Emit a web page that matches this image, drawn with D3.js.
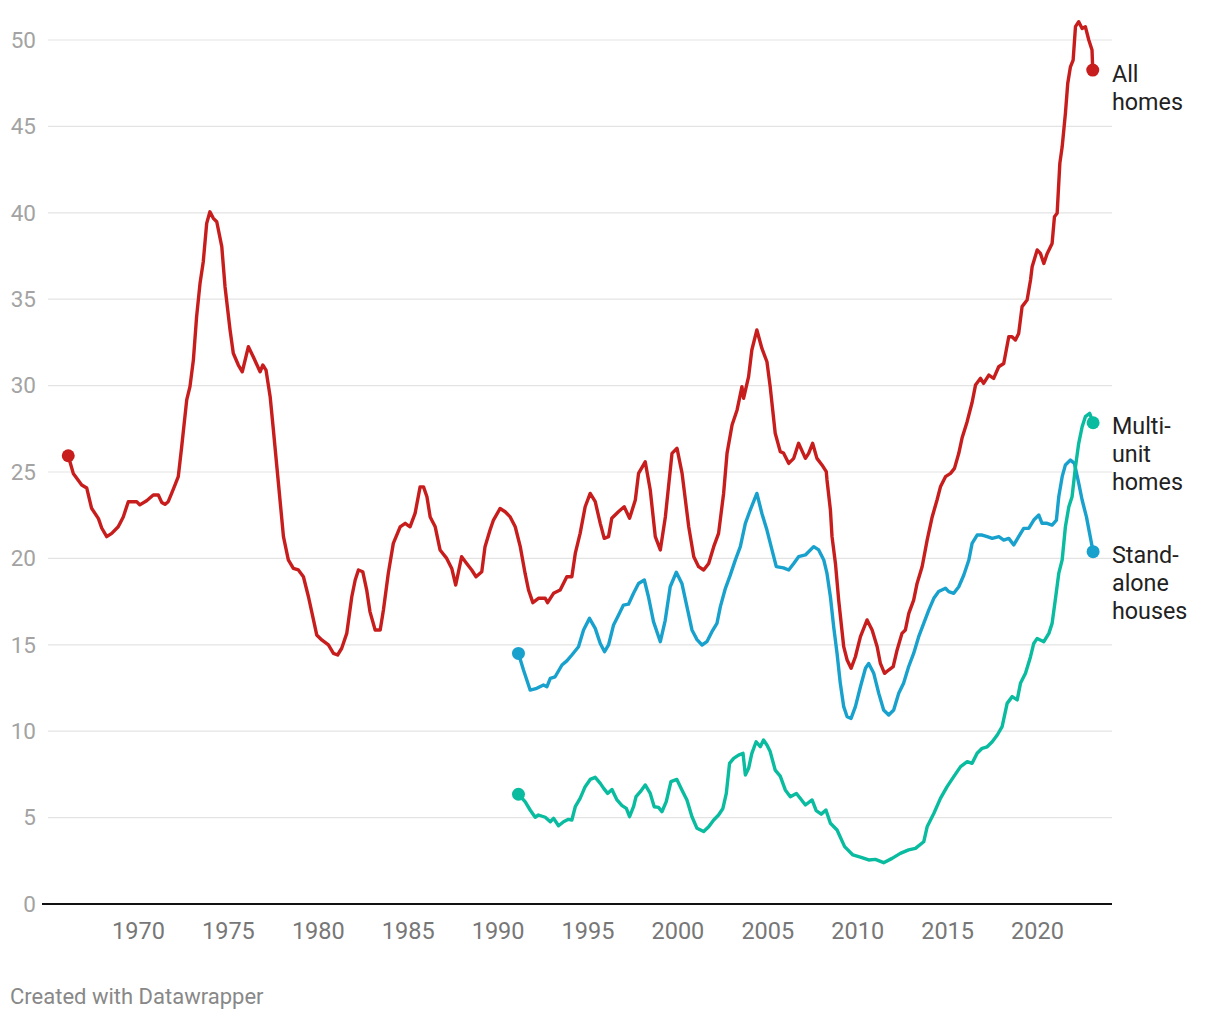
<!DOCTYPE html>
<html>
<head>
<meta charset="utf-8">
<script src="https://cdn.jsdelivr.net/npm/d3@7"></script>
<style>
  html, body { margin: 0; padding: 0; background: #fff; }
  svg { display: block; font-family: Roboto, "Noto Sans", sans-serif; }
</style>
</head>
<body>
<svg id="chart" width="1220" height="1020"></svg>
<script>
// ---- Data (decimal year, value) ----
const allHomes = [
[1966.12,25.94],[1966.40,24.92],[1966.87,24.25],[1967.15,24.07],[1967.42,22.90],[1967.80,22.30],[1967.98,21.76],
[1968.26,21.26],[1968.54,21.45],[1968.90,21.83],[1969.18,22.40],[1969.46,23.28],[1969.93,23.28],[1970.10,23.10],
[1970.48,23.34],[1970.85,23.67],[1971.13,23.67],[1971.32,23.24],[1971.50,23.13],[1971.68,23.28],[1971.87,23.76],
[1972.06,24.25],[1972.24,24.73],[1972.43,26.46],[1972.71,29.17],[1972.89,29.94],[1973.08,31.48],[1973.26,33.99],
[1973.45,35.92],[1973.63,37.17],[1973.82,39.39],[1974.00,40.06],[1974.19,39.68],[1974.38,39.48],[1974.66,38.04],
[1974.84,35.72],[1975.12,33.22],[1975.30,31.87],[1975.58,31.19],[1975.80,30.80],[1976.14,32.25],[1976.41,31.67],
[1976.79,30.80],[1976.94,31.19],[1977.12,30.90],[1977.35,29.36],[1977.53,27.43],[1977.81,24.35],[1978.09,21.26],
[1978.36,19.91],[1978.64,19.42],[1978.92,19.33],[1979.20,18.94],[1979.48,17.78],[1979.76,16.44],[1979.94,15.57],
[1980.22,15.28],[1980.59,14.99],[1980.87,14.50],[1981.10,14.41],[1981.33,14.80],[1981.61,15.66],[1981.89,17.78],
[1982.08,18.75],[1982.26,19.33],[1982.50,19.23],[1982.72,18.17],[1982.90,16.92],[1983.19,15.86],[1983.47,15.86],
[1983.65,17.01],[1983.92,19.13],[1984.20,20.87],[1984.58,21.83],[1984.86,22.03],[1985.13,21.83],[1985.41,22.60],
[1985.69,24.14],[1985.88,24.14],[1986.07,23.57],[1986.25,22.40],[1986.53,21.83],[1986.80,20.49],[1987.17,20.00],
[1987.45,19.42],[1987.67,18.46],[1988.00,20.10],[1988.28,19.71],[1988.56,19.33],[1988.80,18.94],[1989.12,19.23],
[1989.30,20.68],[1989.58,21.64],[1989.77,22.22],[1990.14,22.89],[1990.42,22.70],[1990.70,22.40],[1990.98,21.83],
[1991.26,20.68],[1991.53,19.13],[1991.72,18.17],[1991.96,17.44],[1992.27,17.69],[1992.65,17.69],[1992.78,17.44],
[1993.11,17.98],[1993.48,18.17],[1993.85,18.94],[1994.13,18.94],[1994.32,20.29],[1994.59,21.45],[1994.87,22.99],
[1995.15,23.76],[1995.43,23.28],[1995.71,22.03],[1995.93,21.16],[1996.17,21.26],[1996.35,22.32],[1996.72,22.70],
[1997.04,22.99],[1997.34,22.32],[1997.66,23.38],[1997.84,24.92],[1998.21,25.59],[1998.49,23.96],[1998.77,21.26],
[1999.05,20.49],[1999.33,22.40],[1999.70,26.08],[1999.98,26.37],[2000.26,24.92],[2000.63,21.83],[2000.91,20.10],
[2001.18,19.52],[2001.46,19.33],[2001.74,19.71],[2002.02,20.68],[2002.29,21.45],[2002.57,23.76],[2002.76,26.08],
[2003.04,27.72],[2003.32,28.59],[2003.59,29.94],[2003.68,29.26],[2003.96,30.52],[2004.14,32.06],[2004.42,33.22],
[2004.70,32.15],[2004.98,31.38],[2005.16,29.94],[2005.44,27.24],[2005.72,26.18],[2005.90,26.10],[2006.19,25.50],
[2006.47,25.79],[2006.74,26.66],[2007.12,25.79],[2007.30,26.08],[2007.52,26.66],[2007.76,25.79],[2008.04,25.41],
[2008.28,25.02],[2008.32,24.54],[2008.51,22.80],[2008.60,21.26],[2008.79,19.71],[2008.97,17.59],[2009.25,14.89],
[2009.44,14.12],[2009.66,13.64],[2009.90,14.31],[2010.18,15.47],[2010.55,16.44],[2010.83,15.86],[2011.11,14.89],
[2011.29,13.92],[2011.52,13.35],[2011.75,13.54],[2012.00,13.73],[2012.22,14.70],[2012.49,15.66],[2012.68,15.86],
[2012.87,16.82],[2013.14,17.59],[2013.33,18.55],[2013.61,19.52],[2013.89,21.06],[2014.17,22.40],[2014.44,23.38],
[2014.63,24.14],[2014.91,24.73],[2015.19,24.92],[2015.41,25.21],[2015.65,26.08],[2015.84,27.00],[2016.11,27.90],
[2016.39,29.02],[2016.58,30.03],[2016.86,30.42],[2017.03,30.13],[2017.32,30.61],[2017.59,30.42],[2017.87,31.09],
[2018.15,31.28],[2018.43,32.83],[2018.61,32.83],[2018.80,32.64],[2018.98,33.02],[2019.17,34.57],[2019.45,34.95],
[2019.64,36.11],[2019.73,36.88],[2020.01,37.85],[2020.19,37.65],[2020.38,37.07],[2020.57,37.65],[2020.84,38.23],
[2020.97,39.77],[2021.12,39.97],[2021.27,42.86],[2021.40,43.82],[2021.58,45.75],[2021.71,47.49],[2021.86,48.45],
[2022.01,48.84],[2022.14,50.77],[2022.32,51.06],[2022.51,50.67],[2022.69,50.77],[2022.88,50.00],[2023.06,49.42],
[2023.10,48.26]
];

const standAlone = [
[1991.16,14.50],[1991.44,13.54],[1991.81,12.38],[1992.18,12.48],[1992.55,12.67],[1992.74,12.57],[1992.93,13.06],
[1993.20,13.15],[1993.58,13.83],[1993.85,14.07],[1994.13,14.41],[1994.50,14.89],[1994.78,15.86],[1995.11,16.53],
[1995.43,15.95],[1995.71,15.08],[1995.95,14.60],[1996.17,14.99],[1996.45,16.15],[1996.73,16.72],[1997.00,17.30],
[1997.28,17.35],[1997.56,17.98],[1997.84,18.55],[1998.16,18.75],[1998.39,17.78],[1998.67,16.34],[1999.05,15.18],
[1999.32,16.40],[1999.60,18.36],[1999.94,19.20],[2000.25,18.55],[2000.53,17.21],[2000.81,15.86],[2001.09,15.30],
[2001.37,14.99],[2001.64,15.18],[2001.92,15.76],[2002.20,16.24],[2002.39,17.21],[2002.67,18.27],[2002.94,19.03],
[2003.22,19.90],[2003.50,20.68],[2003.78,22.03],[2004.05,22.80],[2004.42,23.76],[2004.70,22.60],[2004.98,21.64],
[2005.26,20.49],[2005.50,19.52],[2005.90,19.45],[2006.19,19.33],[2006.47,19.71],[2006.74,20.10],[2007.12,20.20],
[2007.58,20.68],[2007.86,20.49],[2008.14,19.91],[2008.32,19.13],[2008.51,17.78],[2008.69,16.05],[2008.88,14.50],
[2009.06,12.77],[2009.25,11.42],[2009.44,10.84],[2009.66,10.74],[2009.90,11.42],[2010.18,12.57],[2010.46,13.64],
[2010.64,13.92],[2010.92,13.35],[2011.20,12.19],[2011.47,11.23],[2011.75,10.94],[2012.03,11.23],[2012.31,12.19],
[2012.58,12.77],[2012.86,13.73],[2013.14,14.50],[2013.42,15.47],[2013.70,16.24],[2013.98,17.01],[2014.26,17.69],
[2014.53,18.08],[2014.91,18.27],[2015.09,18.08],[2015.37,17.98],[2015.65,18.36],[2015.93,19.04],[2016.21,19.91],
[2016.39,20.87],[2016.67,21.35],[2016.95,21.35],[2017.23,21.26],[2017.51,21.16],[2017.88,21.26],[2018.15,21.06],
[2018.43,21.16],[2018.71,20.78],[2018.98,21.26],[2019.26,21.74],[2019.54,21.74],[2019.82,22.22],[2020.10,22.51],
[2020.28,22.03],[2020.56,22.03],[2020.84,21.93],[2021.08,22.22],[2021.21,23.57],[2021.40,24.73],[2021.58,25.41],
[2021.86,25.69],[2022.08,25.50],[2022.32,24.35],[2022.51,23.38],[2022.75,22.40],[2023.12,20.39]
];

const multiUnit = [
[1991.16,6.35],[1991.53,5.92],[1991.81,5.44],[1992.09,5.02],[1992.27,5.15],[1992.65,5.02],[1992.93,4.76],
[1993.11,4.96],[1993.39,4.53],[1993.67,4.76],[1993.94,4.90],[1994.13,4.86],[1994.32,5.63],[1994.59,6.11],
[1994.87,6.79],[1995.15,7.21],[1995.43,7.33],[1995.71,6.98],[1995.90,6.69],[1996.12,6.40],[1996.36,6.63],
[1996.64,6.02],[1996.92,5.69],[1997.16,5.53],[1997.34,5.05],[1997.56,5.63],[1997.70,6.21],[1997.94,6.50],
[1998.21,6.89],[1998.49,6.40],[1998.71,5.63],[1998.95,5.59],[1999.14,5.34],[1999.38,5.92],[1999.64,7.08],
[1999.97,7.21],[2000.25,6.60],[2000.53,6.02],[2000.81,5.05],[2001.09,4.38],[2001.46,4.19],[2001.74,4.47],
[2002.02,4.86],[2002.29,5.15],[2002.53,5.53],[2002.72,6.40],[2002.90,8.14],[2003.13,8.43],[2003.40,8.62],
[2003.65,8.72],[2003.78,7.47],[2003.96,7.85],[2004.14,8.72],[2004.38,9.39],[2004.61,9.10],[2004.79,9.49],
[2004.98,9.20],[2005.16,8.82],[2005.44,7.75],[2005.72,7.40],[2006.00,6.60],[2006.28,6.21],[2006.62,6.40],
[2006.84,6.10],[2007.12,5.73],[2007.49,6.02],[2007.72,5.40],[2008.00,5.20],[2008.26,5.44],[2008.51,4.67],
[2008.88,4.28],[2009.30,3.32],[2009.76,2.84],[2010.22,2.70],[2010.64,2.55],[2011.01,2.58],[2011.47,2.39],
[2011.94,2.64],[2012.40,2.93],[2012.86,3.13],[2013.24,3.22],[2013.70,3.60],[2013.89,4.47],[2014.26,5.24],
[2014.63,6.11],[2015.00,6.79],[2015.37,7.37],[2015.75,7.95],[2016.12,8.24],[2016.39,8.14],[2016.67,8.72],
[2016.95,9.01],[2017.23,9.10],[2017.51,9.39],[2017.79,9.78],[2018.06,10.26],[2018.34,11.61],[2018.62,12.00],
[2018.90,11.81],[2019.08,12.77],[2019.36,13.35],[2019.64,14.31],[2019.82,15.08],[2020.01,15.37],[2020.38,15.18],
[2020.66,15.66],[2020.84,16.24],[2021.03,17.69],[2021.21,19.13],[2021.40,19.91],[2021.58,21.83],[2021.77,22.99],
[2021.95,23.57],[2022.14,25.31],[2022.32,26.66],[2022.51,27.62],[2022.69,28.20],[2022.93,28.39],[2023.12,27.85]
];

const yTicks = [0, 5, 10, 15, 20, 25, 30, 35, 40, 45, 50];
const xTicks = [1970, 1975, 1980, 1985, 1990, 1995, 2000, 2005, 2010, 2015, 2020];

const seriesList = [
  { name: "All homes",          lines: ["All", "homes"],            color: "#c71e1d", data: allHomes },
  { name: "Stand-alone houses", lines: ["Stand-", "alone", "houses"], color: "#18a1cd", data: standAlone },
  { name: "Multi-unit homes",   lines: ["Multi-", "unit", "homes"],  color: "#09bb9f", data: multiUnit }
];

// ---- Layout ----
const svg = d3.select("#chart");
const x = d3.scaleLinear().domain([1970, 2020]).range([138, 1037]);
const y = d3.scaleLinear().domain([0, 50]).range([904, 40]);
const gridLeft = 48, gridRight = 1112, axisLeft = 42;

// gridlines
svg.append("g").selectAll("line")
  .data(yTicks.filter(d => d !== 0))
  .join("line")
  .attr("x1", gridLeft).attr("x2", gridRight)
  .attr("y1", d => y(d)).attr("y2", d => y(d))
  .attr("stroke", "#e3e3e3").attr("stroke-width", 1.2);

// y labels
svg.append("g").selectAll("text")
  .data(yTicks)
  .join("text")
  .attr("x", 36).attr("y", d => y(d))
  .attr("dy", "0.35em")
  .attr("text-anchor", "end")
  .attr("fill", "#a3a3a3")
  .attr("font-size", 22.5)
  .text(d => d);

// x axis baseline
svg.append("line")
  .attr("x1", axisLeft).attr("x2", gridRight)
  .attr("y1", y(0)).attr("y2", y(0))
  .attr("stroke", "#111").attr("stroke-width", 2);

// x axis labels via d3 axis
const xAxis = d3.axisBottom(x).tickValues(xTicks).tickFormat(d3.format("d")).tickSize(0).tickPadding(19);
const gx = svg.append("g").attr("transform", `translate(0,${y(0) - 1})`).call(xAxis);
gx.select(".domain").remove();
gx.selectAll("text")
  .attr("fill", "#777")
  .attr("font-size", 23.5)
  .attr("font-family", "Roboto, 'Noto Sans', sans-serif");

// lines
const line = d3.line().x(d => x(d[0])).y(d => y(d[1])).curve(d3.curveLinear);
seriesList.forEach(s => {
  svg.append("path")
    .datum(s.data)
    .attr("fill", "none")
    .attr("stroke", s.color)
    .attr("stroke-width", 3.4)
    .attr("stroke-linejoin", "round")
    .attr("stroke-linecap", "round")
    .attr("d", line);
  const first = s.data[0], last = s.data[s.data.length - 1];
  svg.append("g").selectAll("circle")
    .data([first, last])
    .join("circle")
    .attr("cx", d => x(d[0])).attr("cy", d => y(d[1]))
    .attr("r", 6.5)
    .attr("fill", s.color);
});

// direct labels
seriesList.forEach(s => {
  const last = s.data[s.data.length - 1];
  const t = svg.append("text")
    .attr("x", 1112)
    .attr("y", y(last[1]) + 11.5)
    .attr("fill", "#222")
    .attr("font-size", 23.3);
  s.lines.forEach((ln, i) => {
    t.append("tspan").attr("x", 1112).attr("dy", i === 0 ? 0 : 28).text(ln);
  });
});

// credit
svg.append("text")
  .attr("x", 10).attr("y", 1004)
  .attr("fill", "#888")
  .attr("font-size", 22)
  .text("Created with Datawrapper");
</script>
</body>
</html>
